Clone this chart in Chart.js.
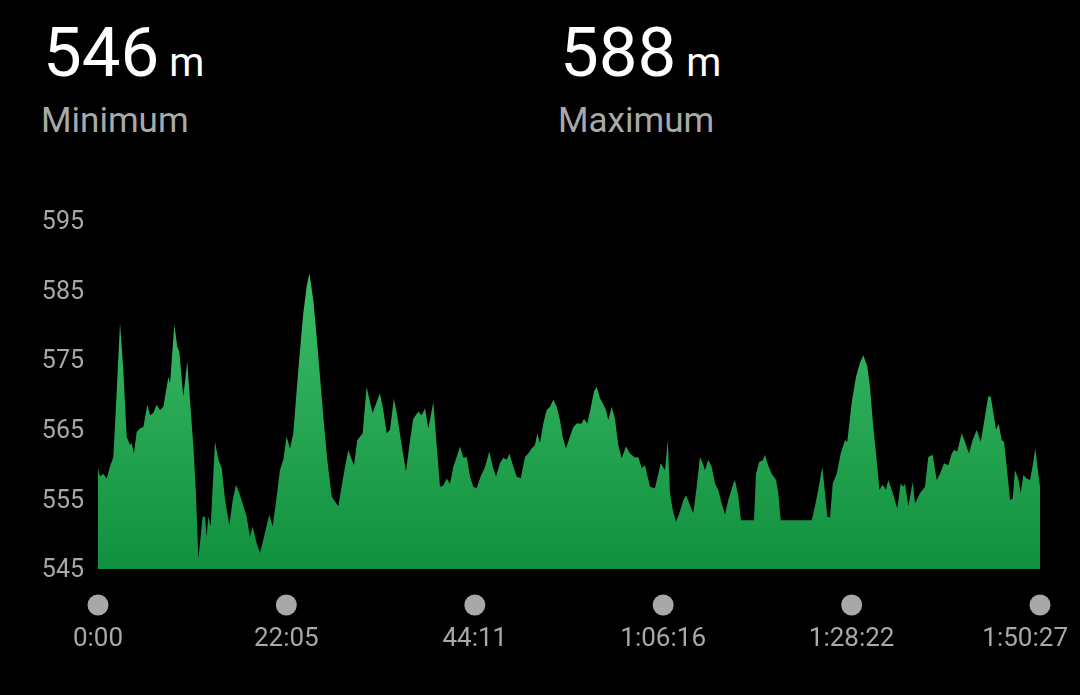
<!DOCTYPE html>
<html>
<head>
    <meta name="viewport" content="width=device-width, initial-scale=1">
    <title>Elevation</title>
    <script src="https://cdn.jsdelivr.net/npm/chart.js"></script>
    <style>
        html, body { margin: 0; padding: 0; background: #000; }
        body { width: 1080px; height: 695px; position: relative; overflow: hidden; font-family: Roboto, "Noto Sans", sans-serif; }
        .stat { position: absolute; top: 13px; }
        .stat .value { color: #fff; font-size: 69px; line-height: 80px; white-space: nowrap; }
        .stat .unit { font-size: 40px; margin-left: 10px; }
        .stat .label { color: #a9a9a9; font-size: 35px; line-height: 40px; margin-top: -2px; margin-left: -2px; }
        #min { left: 43px; }
        #max { left: 560px; }
        #chartBox { position: absolute; left: 0; top: 0; width: 1080px; height: 695px; }
    </style>
</head>
<body>
    <div class="stat" id="min">
        <div class="value">546<span class="unit">m</span></div>
        <div class="label">Minimum</div>
    </div>
    <div class="stat" id="max">
        <div class="value">588<span class="unit">m</span></div>
        <div class="label">Maximum</div>
    </div>
    <div id="chartBox"><canvas id="elevChart" width="1080" height="695"></canvas></div>
    <script>
        // elapsed time in seconds and elevation in metres
        var times = [0, 14, 37, 61, 84, 108, 131, 155, 178, 202, 225, 237, 253, 272, 295, 319, 347, 366, 389, 413,
            436, 460, 495, 507, 537, 558, 572, 600, 628, 647, 671, 689, 706, 722, 736, 753, 764, 776, 793, 823,
            847, 870, 894, 924, 948, 971, 994, 1023, 1046, 1069, 1088, 1116, 1140, 1163, 1205, 1229, 1257, 1280, 1304, 1327,
            1351, 1374, 1409, 1444, 1468, 1487, 1515, 1538, 1562, 1585, 1613, 1644, 1667, 1691, 1714, 1738, 1761, 1785, 1801, 1824,
            1843, 1862, 1890, 1909, 1932, 1960, 1984, 2007, 2031, 2054, 2082, 2106, 2136, 2167, 2195, 2218, 2253, 2277, 2300, 2324,
            2359, 2383, 2406, 2429, 2453, 2476, 2500, 2523, 2547, 2570, 2594, 2617, 2640, 2664, 2692, 2723, 2753, 2777, 2800, 2828,
            2851, 2875, 2894, 2922, 2945, 2974, 3004, 3027, 3051, 3074, 3091, 3109, 3133, 3156, 3180, 3203, 3227, 3250, 3269, 3292,
            3316, 3344, 3368, 3403, 3419, 3442, 3466, 3489, 3508, 3532, 3551, 3574, 3590, 3614, 3637, 3660, 3684, 3714, 3743, 3778,
            3801, 3825, 3848, 3883, 3918, 3942, 3958, 3989, 4008, 4024, 4043, 4066, 4090, 4118, 4137, 4160, 4188, 4212, 4235, 4254,
            4270, 4293, 4317, 4341, 4364, 4388, 4411, 4434, 4470, 4481, 4505, 4523, 4615, 4629, 4652, 4676, 4692, 4709, 4739, 4770,
            4786, 4803, 5021, 5044, 5067, 5096, 5119, 5131, 5150, 5169, 5197, 5225, 5255, 5271, 5302, 5332, 5360, 5384, 5412, 5431,
            5454, 5478, 5497, 5520, 5543, 5560, 5584, 5623, 5647, 5665, 5677, 5701, 5731, 5748, 5783, 5818, 5841, 5872, 5900, 5924,
            5952, 5982, 6006, 6022, 6045, 6076, 6099, 6127, 6153, 6182, 6210, 6240, 6263, 6280, 6299, 6318, 6336, 6358, 6374, 6393,
            6416, 6435, 6451, 6474, 6491, 6510, 6533, 6557, 6576, 6594, 6615, 6627];

        var elevation = [559.5, 558.3, 558.7, 558.0, 559.7, 561.1, 570.2, 580.3, 573.6, 564.0, 562.8, 563.1, 561.6, 564.7, 565.2, 565.4, 568.6, 567.1, 567.4, 568.6,
            567.8, 568.3, 572.6, 571.7, 580.1, 576.9, 576.2, 569.8, 574.8, 569.3, 562.6, 555.9, 546.5, 549.6, 552.5, 552.5, 549.6, 552.5, 551.1, 563.3,
            560.7, 559.5, 554.9, 551.3, 554.9, 557.1, 555.9, 554.0, 552.5, 549.6, 551.1, 548.7, 547.3, 549.2, 552.8, 551.1, 555.4, 559.2, 560.7, 564.0,
            562.3, 564.5, 573.6, 581.7, 585.6, 587.5, 583.6, 578.4, 572.6, 566.9, 560.7, 555.4, 554.7, 554.0, 556.8, 559.7, 562.1, 560.7, 559.9, 563.5,
            564.0, 564.5, 571.2, 569.3, 567.4, 569.0, 570.2, 567.8, 564.5, 565.0, 569.5, 566.9, 562.8, 559.0, 563.5, 566.6, 567.6, 567.1, 568.1, 565.2,
            569.0, 562.6, 556.8, 557.0, 558.0, 557.2, 559.7, 561.1, 562.6, 561.0, 561.1, 558.3, 556.8, 556.6, 558.3, 559.7, 561.9, 559.7, 558.3, 560.2,
            561.0, 560.7, 561.6, 559.7, 558.3, 558.0, 561.1, 561.6, 562.3, 562.8, 564.5, 563.1, 565.9, 567.8, 568.3, 569.3, 568.3, 566.4, 564.0, 562.3,
            563.8, 565.4, 565.9, 565.9, 566.6, 565.9, 568.1, 570.5, 571.2, 569.5, 568.8, 567.8, 566.4, 568.3, 566.6, 562.8, 560.9, 562.6, 561.6, 561.0,
            561.1, 559.5, 559.9, 556.8, 556.6, 558.7, 560.2, 559.2, 563.5, 555.9, 553.5, 551.8, 553.0, 554.9, 555.6, 554.4, 553.0, 556.8, 561.1, 560.2,
            559.2, 560.7, 559.7, 557.3, 556.3, 554.4, 552.8, 554.9, 557.3, 557.8, 555.4, 552.0, 552.0, 558.7, 560.4, 560.6, 561.4, 560.2, 558.7, 557.8,
            555.9, 552.0, 552.0, 554.0, 556.4, 559.7, 554.9, 552.5, 552.4, 557.3, 558.7, 561.6, 563.5, 563.3, 568.8, 572.6, 574.6, 575.7, 574.1, 571.2,
            565.4, 560.7, 556.4, 557.1, 556.4, 557.8, 556.4, 553.7, 557.3, 556.8, 557.3, 554.0, 557.5, 554.4, 555.9, 556.8, 561.1, 561.4, 557.8, 558.7,
            560.2, 559.9, 561.6, 562.1, 561.9, 564.5, 563.3, 561.6, 563.5, 565.0, 563.3, 566.9, 569.8, 569.8, 567.4, 565.0, 565.9, 563.5, 563.3, 559.7,
            554.9, 555.1, 559.2, 558.0, 555.9, 558.5, 558.0, 557.8, 559.9, 562.3, 558.7, 556.8];

        // x ticks (seconds) and their labels
        var tickSeconds = [0, 1325, 2651, 3976, 5302, 6627];
        var tickLabels = ['0:00', '22:05', '44:11', '1:06:16', '1:28:22', '1:50:27'];
        var yTicks = [545, 555, 565, 575, 585, 595];

        var points = times.map(function(t, i) {
            return { x: t, y: elevation[i] };
        });

        // grey dots and time labels under the plot; the last label is kept inside the screen
        var timeAxis = {
            id: 'timeAxis',
            afterDraw: function(chart) {
                var ctx = chart.ctx;
                var xs = chart.scales.x;
                ctx.save();
                ctx.fillStyle = '#a8a8a8';
                ctx.font = '26px Roboto';
                ctx.textBaseline = 'middle';
                ctx.textAlign = 'center';
                tickSeconds.forEach(function(s, i) {
                    var px = xs.getPixelForValue(s);
                    ctx.beginPath();
                    ctx.arc(px, 605, 10.5, 0, Math.PI * 2);
                    ctx.fill();
                    var w = ctx.measureText(tickLabels[i]).width;
                    var cx = Math.min(px, chart.width - 12 - w / 2);
                    ctx.fillText(tickLabels[i], cx, 639);
                });
                ctx.restore();
            }
        };

        var ctx = document.getElementById('elevChart').getContext('2d');
        var elevChart = new Chart(ctx, {
            type: 'line',
            data: {
                datasets: [{
                    data: points,
                    fill: 'start',
                    borderWidth: 0,
                    pointRadius: 0,
                    tension: 0,
                    backgroundColor: function(context) {
                        var area = context.chart.chartArea;
                        if (!area) return '#20a050';
                        var g = context.chart.ctx.createLinearGradient(0, 270, 0, area.bottom);
                        g.addColorStop(0, '#3dbd68');
                        g.addColorStop(1, '#11913f');
                        return g;
                    }
                }]
            },
            options: {
                responsive: false,
                animation: false,
                layout: { padding: { top: 221, right: 40, left: 0, bottom: 0 } },
                plugins: { legend: { display: false }, tooltip: { enabled: false } },
                scales: {
                    x: {
                        type: 'linear',
                        min: 0,
                        max: 6627,
                        grid: { display: false, drawTicks: false },
                        border: { display: false },
                        afterBuildTicks: function(scale) {
                            scale.ticks = tickSeconds.map(function(v) { return { value: v }; });
                        },
                        afterFit: function(scale) {
                            scale.height = 126;
                            scale.paddingLeft = 0;
                            scale.paddingRight = 0;
                        },
                        ticks: { display: false }
                    },
                    y: {
                        min: 545,
                        max: 595,
                        grid: { display: false, drawTicks: false },
                        border: { display: false },
                        afterBuildTicks: function(scale) {
                            scale.ticks = yTicks.map(function(v) { return { value: v }; });
                        },
                        afterFit: function(scale) { scale.width = 98; },
                        ticks: {
                            padding: 14,
                            labelOffset: 2,
                            color: '#a8a8a8',
                            font: { family: 'Roboto', size: 25 }
                        }
                    }
                }
            },
            plugins: [timeAxis]
        });
    </script>
</body>
</html>
